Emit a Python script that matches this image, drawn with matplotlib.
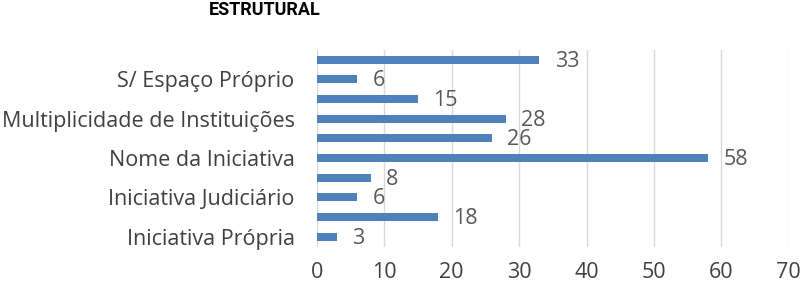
import matplotlib.pyplot as plt
import numpy as np

plt.rcParams['font.family'] = ['Open Sans', 'DejaVu Sans']

# categories from bottom to top; the chart only prints every other label
labels = ["Iniciativa Própria", "", "Iniciativa Judiciário", "",
          "Nome da Iniciativa", "", "Multiplicidade de Instituições", "",
          "S/ Espaço Próprio", ""]
values = [3, 18, 6, 8, 58, 26, 28, 15, 6, 33]
title = "ESTRUTURAL"

fig = plt.figure(figsize=(8, 2.85), dpi=100)
ax = fig.add_axes([0.396, 0.135, 0.59, 0.69])

y = np.arange(len(values))
bars = ax.barh(y, values, height=0.4, color='#4f81bd', zorder=3)

for bar, v in zip(bars, values):
    ax.annotate(str(v), (bar.get_width(), bar.get_y() + bar.get_height() / 2),
                xytext=(11, -1), textcoords='offset points', va='center', ha='left',
                fontsize=15.5, color='#595959')

ax.set_xlim(0, 70)
ax.set_ylim(-0.5, 9.5)
ax.set_xticks(range(0, 71, 10))
ax.set_yticks(y)
ax.set_yticklabels(labels)
ax.tick_params(axis='both', length=0, labelsize=15.5, labelcolor='#404040')
ax.tick_params(axis='x', pad=11)
ax.tick_params(axis='y', pad=16)
ax.grid(axis='x', color='#d9d9d9', linewidth=1, zorder=0)
for s in ax.spines.values():
    s.set_visible(False)

fig.text(0.331, 0.995, title, ha='center', va='top', fontsize=13,
         fontweight='bold', color='black', family=['Roboto', 'DejaVu Sans'])

fig.savefig('out.png', dpi=100)
